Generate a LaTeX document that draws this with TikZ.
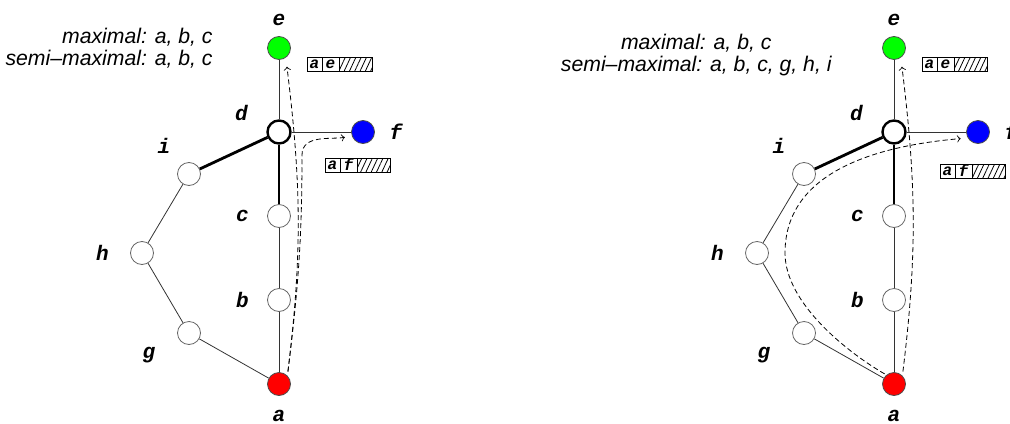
\documentclass[tikz,border=0pt]{standalone}
\usepackage{fontspec}
\setmainfont{Liberation Sans}
\newfontfamily\tagfont{Liberation Mono}
\usetikzlibrary{positioning,patterns.meta}

\begin{document}
\begin{tikzpicture}
[
vertex/.style={circle, draw=black!60, fill=white, line width=0.4pt, minimum size=11.5pt, inner sep=0pt, on grid},
hub/.style={vertex, draw=black, line width=1.2pt},
tag/.style={font=\tagfont\bfseries\itshape\fontsize{10.5}{12}\selectfont, inner sep=0pt, on grid},
note/.style={font=\itshape\fontsize{10.6}{11}\selectfont},
cell/.style={draw, line width=0.5pt, minimum height=7pt, inner sep=0pt, outer sep=0pt,
             font=\tagfont\bfseries\itshape\fontsize{8}{8}\selectfont},
hatch/.style={pattern={Lines[angle=65,distance=2.4pt,line width=0.4pt]}},
thinedge/.style={draw=black!80, line width=0.4pt},
thickedge/.style={draw=black, line width=1.4pt},
flow/.style={->, dash pattern=on 2.5pt off 1.5pt, line width=0.4pt}
]
\useasboundingbox (0,0) rectangle (505pt,-211.5pt);

\foreach \p/\dx/\afy in {L/0pt/16.5pt, R/307.5pt/19.5pt}
{
\begin{scope}[xshift=\dx]
% the tree
\node[vertex, fill=red, draw=black!70] (a\p) at (139.5pt,-192pt) {};
\node[vertex] (b\p) [above=42pt of a\p] {};
\node[vertex] (c\p) [above=42pt of b\p] {};
\node[hub]    (d\p) [above=42pt of c\p] {};
\node[vertex, fill=green, draw=black!70] (e\p) [above=42pt of d\p] {};
\node[vertex, fill=blue, draw=black!70]  (f\p) [right=42pt of d\p] {};
\node[vertex] (g\p) [above left=25.5pt and 45pt of a\p] {};
\node[vertex] (h\p) [above left=40pt and 23.5pt of g\p] {};
\node[vertex] (i\p) [above right=39.5pt and 23.5pt of h\p] {};
\draw[thinedge]  (e\p) -- (d\p);
\draw[thinedge]  (d\p) -- (f\p);
\draw[thickedge] (d\p) -- (c\p);
\draw[thickedge] (d\p) -- (i\p);
\draw[thinedge]  (c\p) -- (b\p) -- (a\p);
\draw[thinedge]  (i\p) -- (h\p) -- (g\p) -- (a\p);
% names
\node[tag] (le\p) [above=14pt of e\p] {e};
\node[tag] (ld\p) [above left=9.5pt and 18.75pt of d\p] {d};
\node[tag] (lf\p) [right=16.5pt of f\p] {f};
\node[tag] (lc\p) [left=18.25pt of c\p] {c};
\node[tag] (lb\p) [left=18.25pt of b\p] {b};
\node[tag] (la\p) [below=16pt of a\p] {a};
\node[tag] (li\p) [above left=14pt and 12.5pt of i\p] {i};
\node[tag] (lh\p) [left=19.75pt of h\p] {h};
\node[tag] (lg\p) [below left=11.25pt and 20pt of g\p] {g};
% table entries
\node[cell, on grid, minimum width=7.5pt] (ae1\p) [below right=8pt and 17.75pt of e\p] {a};
\node[cell, minimum width=8.5pt, anchor=west] (ae2\p) at (ae1\p.east) {e};
\node[cell, hatch, minimum width=16.5pt, anchor=west] (ae3\p) at (ae2\p.east) {};
\node[cell, on grid, minimum width=7.5pt] (af1\p) [below left=\afy and 15.25pt of f\p] {a};
\node[cell, minimum width=8.5pt, anchor=west] (af2\p) at (af1\p.east) {f};
\node[cell, hatch, minimum width=16.5pt, anchor=west] (af3\p) at (af2\p.east) {};
% route to e
\draw[flow, shorten <=2pt, shorten >=4.5pt] (a\p.45) to[out=83, in=-83] (e\p.-55);
\end{scope}
}

% left panel
\node[note, align=right, left=23.75pt of eL] (semiL) {maximal: a, b, c\\semi–maximal: a, b, c};
\coordinate[on grid, below right=11.5pt and 11.5pt of dL] (bendL);
\draw[flow, shorten <=2pt, shorten >=3.5pt] (aL.45) to[out=83, in=-90] (bendL) to[out=90, in=190] (fL.200);

% right panel
\node[note, align=center, left=21.75pt of eR, yshift=-3.5pt] (semiR) {maximal: a, b, c\\semi–maximal: a, b, c, g, h, i};
\coordinate[on grid, right=14pt of hR] (humpR);
\draw[flow, shorten <=1pt, shorten >=3.5pt] (aR.130) .. controls +(150:22.5pt) and +(-90:25pt) .. (humpR) to[out=90, in=185] (fR.210);
\end{tikzpicture}
\end{document}
